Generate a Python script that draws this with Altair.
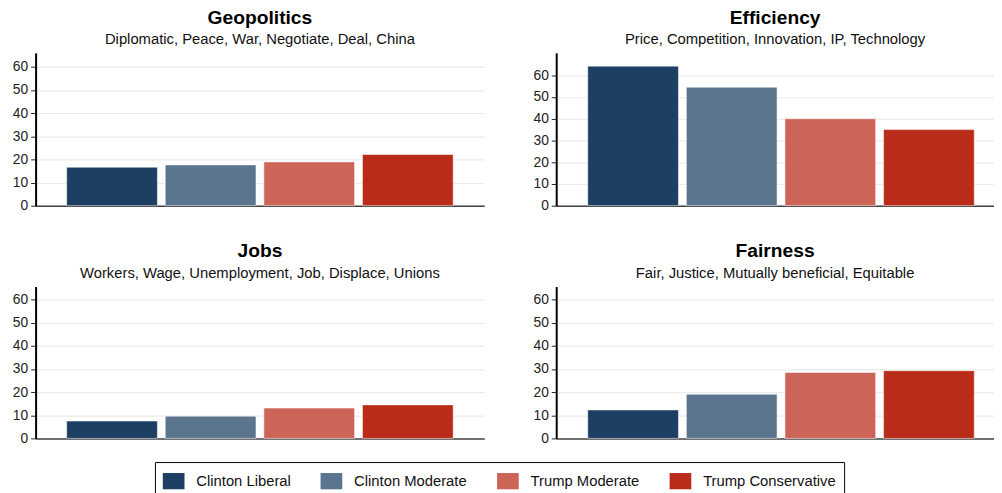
import altair as alt
import pandas as pd

groups = ["Clinton Liberal", "Clinton Moderate", "Trump Moderate", "Trump Conservative"]
colors = ["#1d3f64", "#5b758f", "#cc6557", "#ba2c1a"]

geo_values = [16.6, 17.6, 18.9, 22.1]
eff_values = [64.2, 54.5, 40.0, 35.0]
jobs_values = [7.5, 9.6, 13.1, 14.5]
fair_values = [12.3, 19.1, 28.5, 29.3]

titles = ["Geopolitics", "Efficiency", "Jobs", "Fairness"]
subtitles = [
    "Diplomatic, Peace, War, Negotiate, Deal, China",
    "Price, Competition, Innovation, IP, Technology",
    "Workers, Wage, Unemployment, Job, Displace, Unions",
    "Fair, Justice, Mutually beneficial, Equitable",
]
tick_values = [0, 10, 20, 30, 40, 50, 60]

FONT = "Liberation Sans"
RECT = "M-1,-0.75L1,-0.75L1,0.75L-1,0.75Z"


def panel(title, subtitle, values, width, height, ymax, pad_outer, align):
    df = pd.DataFrame({"group": groups, "value": values})
    return (
        alt.Chart(
            df,
            title=alt.TitleParams(
                title,
                subtitle=subtitle,
                fontSize=19.5,
                fontWeight="bold",
                font=FONT,
                color="black",
                subtitleFont=FONT,
                subtitleFontSize=15,
                subtitleColor="#111",
                subtitlePadding=4,
                anchor="middle",
                offset=5,
            ),
        )
        .mark_bar(stroke="white", strokeOpacity=0.5, strokeWidth=1)
        .encode(
            x=alt.X(
                "group:N",
                sort=groups,
                title=None,
                scale=alt.Scale(paddingInner=0.08, paddingOuter=pad_outer, align=align),
                axis=alt.Axis(labels=False, ticks=False, domainColor="#444", domainWidth=1.5, grid=False),
            ),
            y=alt.Y(
                "value:Q",
                title=None,
                scale=alt.Scale(domain=[0, ymax], nice=False, zero=True),
                axis=alt.Axis(
                    values=tick_values,
                    grid=True,
                    gridColor="#ebebeb",
                    gridWidth=1.2,
                    domainColor="black",
                    domainWidth=2,
                    tickColor="#222",
                    tickSize=5,
                    labelPadding=3,
                    labelFont=FONT,
                    labelFontSize=14,
                    labelColor="#222",
                ),
            ),
            color=alt.Color(
                "group:N",
                sort=groups,
                scale=alt.Scale(domain=groups, range=colors),
                legend=alt.Legend(
                    title=None,
                    orient="none",
                    legendX=121,
                    legendY=415,
                    direction="horizontal",
                    symbolType=RECT,
                    symbolSize=484,
                    symbolStrokeWidth=0,
                    symbolOpacity=1,
                    labelFont=FONT,
                    labelFontSize=15,
                    labelColor="#111",
                    labelOffset=12,
                    columnPadding=30,
                    padding=8,
                    strokeColor="black",
                    fillColor="white",
                ),
            ),
        )
        .properties(width=width, height=height)
    )


p1 = panel(titles[0], subtitles[0], geo_values, 455, 155, 66, 0.315, 0.5)
p2 = panel(titles[1], subtitles[1], eff_values, 444, 155, 70.3, 0.26, 0.615)
p3 = panel(titles[2], subtitles[2], jobs_values, 455, 154, 65.7, 0.315, 0.5)
p4 = panel(titles[3], subtitles[3], fair_values, 444, 154, 65.7, 0.26, 0.615)

chart = (
    alt.vconcat(
        alt.hconcat(p1, p2, spacing=49),
        alt.hconcat(p3, p4, spacing=49),
        spacing=29,
    )
    .resolve_scale(y="independent")
    .properties(padding={"left": 4, "top": -4, "right": 0, "bottom": 0}, background="white")
    .configure_view(stroke=None)
)

chart.save("out.html", embed_options={"renderer": "svg", "actions": False})
